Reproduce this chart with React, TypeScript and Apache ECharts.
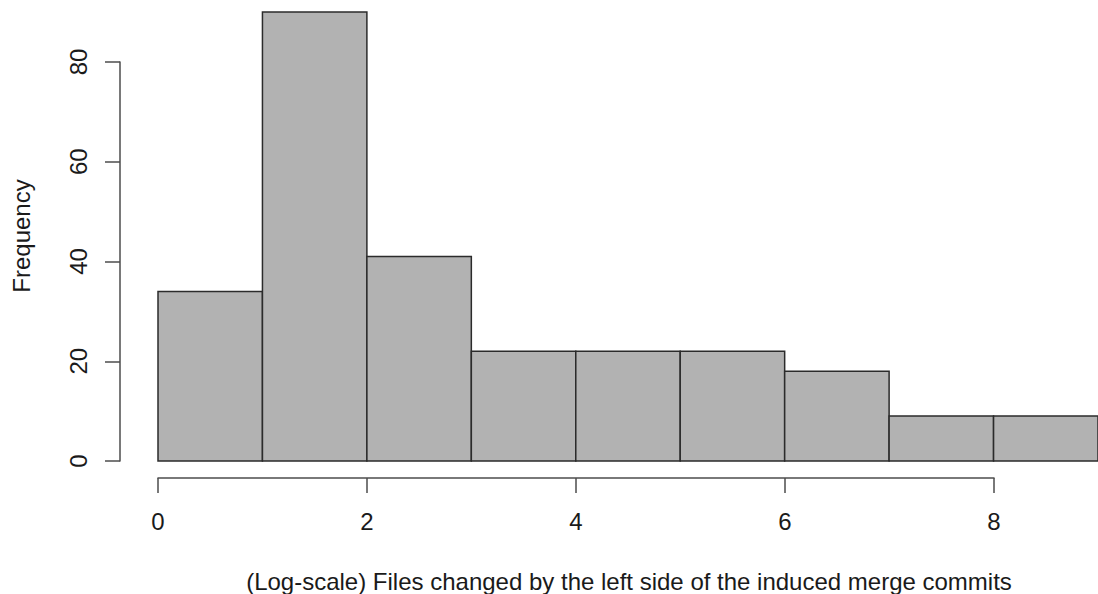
import React, { useEffect, useRef } from "react";
import * as echarts from "echarts";

const binStarts = [0, 1, 2, 3, 4, 5, 6, 7, 8];
const binWidth = 1;
const frequencies = [34, 90, 41, 22, 22, 22, 18, 9, 9];
const xTicks = [0, 2, 4, 6, 8];
const yTicks = [0, 20, 40, 60, 80];
const xTitle = "(Log-scale) Files changed by the left side of the induced merge commits";
const yTitle = "Frequency";

const FONT = "'Liberation Sans', Arial, Helvetica, sans-serif";
const AXIS_COLOR = "#4d4d4d";
const TEXT_COLOR = "#1a1a1a";
const FS = 24;

export default function App() {
  const ref = useRef<HTMLDivElement>(null);
  useEffect(() => {
    const chart = echarts.init(ref.current!, null, { renderer: "svg" });
    const data = binStarts.map((s, i) => [s, s + binWidth, frequencies[i]]);
    chart.setOption({
      animation: false,
      backgroundColor: "#ffffff",
      grid: [
        { left: 158, right: -0.5, top: 12.1, bottom: 133 },
        { left: 120, width: 20, top: 62, bottom: 133 },
        { left: 158, width: 836, top: 470, bottom: 116 },
      ],
      xAxis: [
        { type: "value", gridIndex: 0, min: 0, max: 9, show: false },
        { type: "value", gridIndex: 1, show: false },
        {
          type: "value",
          gridIndex: 2,
          min: xTicks[0],
          max: xTicks[xTicks.length - 1],
          interval: 2,
          position: "bottom",
          axisLine: { show: true, lineStyle: { color: AXIS_COLOR, width: 1.5 } },
          axisTick: { show: true, length: 15, lineStyle: { color: AXIS_COLOR, width: 1.5 } },
          axisLabel: { color: TEXT_COLOR, fontSize: FS, fontFamily: FONT, margin: 31 },
          splitLine: { show: false },
        },
      ],
      yAxis: [
        { type: "value", gridIndex: 0, min: 0, max: 90, show: false },
        {
          type: "value",
          gridIndex: 1,
          min: yTicks[0],
          max: yTicks[yTicks.length - 1],
          interval: 20,
          position: "left",
          axisLine: { show: true, lineStyle: { color: AXIS_COLOR, width: 1.5 } },
          axisTick: { show: true, length: 15, lineStyle: { color: AXIS_COLOR, width: 1.5 } },
          axisLabel: { color: TEXT_COLOR, fontSize: FS, fontFamily: FONT, margin: 30, rotate: 90 },
          splitLine: { show: false },
        },
        { type: "value", gridIndex: 2, show: false },
      ],
      series: [
        {
          type: "custom",
          xAxisIndex: 0,
          yAxisIndex: 0,
          data,
          renderItem: (params: any, api: any) => {
            const p0 = api.coord([api.value(0), api.value(2)]);
            const p1 = api.coord([api.value(1), 0]);
            return {
              type: "rect",
              shape: { x: p0[0], y: p0[1], width: p1[0] - p0[0], height: p1[1] - p0[1] },
              style: { fill: "#b2b2b2", stroke: "#2b2b2b", lineWidth: 1.5 },
            };
          },
        },
      ],
      graphic: [
        {
          type: "text",
          x: 629,
          y: 581,
          style: {
            text: xTitle,
            fontSize: FS,
            fontFamily: FONT,
            fill: TEXT_COLOR,
            align: "center",
            verticalAlign: "middle",
          },
        },
        {
          type: "text",
          x: 21,
          y: 236,
          rotation: Math.PI / 2,
          style: {
            text: yTitle,
            fontSize: FS,
            fontFamily: FONT,
            fill: TEXT_COLOR,
            align: "center",
            verticalAlign: "middle",
          },
        },
      ],
    });
    return () => chart.dispose();
  }, []);
  return (
    <div
      ref={ref}
      style={{ position: "fixed", left: 0, top: 0, width: 1098, height: 594 }}
    />
  );
}
